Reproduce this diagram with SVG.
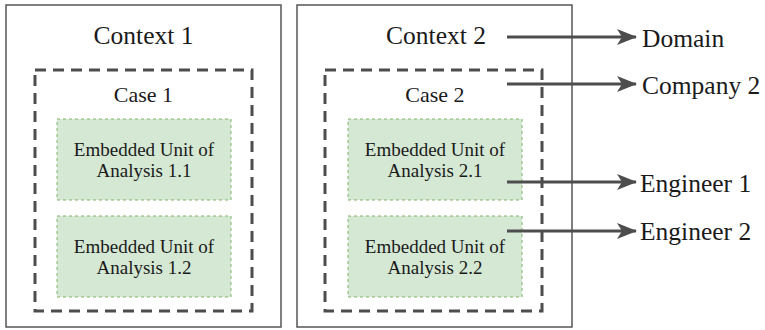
<svg xmlns="http://www.w3.org/2000/svg" width="765" height="330" viewBox="0 0 765 330">
<style>
.ctx{fill:#fff;stroke:#555;stroke-width:1.5}
.case{fill:none;stroke:#4d4d4d;stroke-width:3;stroke-dasharray:11 7}
.unit{fill:#d5e8d4;stroke:#82b366;stroke-width:1;stroke-dasharray:3 3}
text{fill:#1a1a1a}
.t{text-anchor:middle}
</style>
<defs>
<marker id="ah" markerUnits="userSpaceOnUse" markerWidth="20" markerHeight="16" refX="19" refY="8" orient="auto">
<path d="M0,0 L20,8 L0,16 L5,8 z" fill="#4d4d4d"/>
</marker>
</defs>
<g font-family="Liberation Serif, Times New Roman, serif">
<g id="context1">
<rect class="ctx" x="6" y="5" width="275" height="322"/>
<text class="t" font-size="25.5" x="143.5" y="44">Context 1</text>
</g>
<g id="case1">
<rect class="case" x="35" y="70" width="217" height="241"/>
<text class="t" font-size="22" x="143.5" y="101.5">Case 1</text>
</g>
<g id="unit11">
<rect class="unit" x="57" y="119" width="174" height="81"/>
<text class="t" font-size="19" x="144" y="156">Embedded Unit of</text>
<text class="t" font-size="19" x="144" y="177">Analysis 1.1</text>
</g>
<g id="unit12">
<rect class="unit" x="57" y="216" width="174" height="81"/>
<text class="t" font-size="19" x="144" y="253">Embedded Unit of</text>
<text class="t" font-size="19" x="144" y="274">Analysis 1.2</text>
</g>
<g id="context2">
<rect class="ctx" x="297" y="5" width="275" height="322"/>
<text class="t" font-size="25.5" x="436" y="44">Context 2</text>
</g>
<g id="case2">
<rect class="case" x="325" y="70" width="217" height="241"/>
<text class="t" font-size="22" x="435" y="101.5">Case 2</text>
</g>
<g id="unit21">
<rect class="unit" x="348" y="119" width="174" height="81"/>
<text class="t" font-size="19" x="435" y="156">Embedded Unit of</text>
<text class="t" font-size="19" x="435" y="177">Analysis 2.1</text>
</g>
<g id="unit22">
<rect class="unit" x="348" y="216" width="174" height="81"/>
<text class="t" font-size="19" x="435" y="253">Embedded Unit of</text>
<text class="t" font-size="19" x="435" y="274">Analysis 2.2</text>
</g>
<g id="connectors" stroke="#4d4d4d" stroke-width="3" fill="none" marker-end="url(#ah)">
<line x1="507" y1="37" x2="636" y2="37"/>
<line x1="507" y1="84" x2="636" y2="84"/>
<line x1="507" y1="182" x2="636" y2="182"/>
<line x1="507" y1="231" x2="636" y2="231"/>
</g>
<g id="domain"><text font-size="25.5" x="642" y="47">Domain</text></g>
<g id="company2"><text font-size="25.5" x="642" y="94">Company 2</text></g>
<g id="engineer1"><text font-size="25.5" x="640" y="191.5">Engineer 1</text></g>
<g id="engineer2"><text font-size="25.5" x="640" y="240">Engineer 2</text></g>
</g>
</svg>
